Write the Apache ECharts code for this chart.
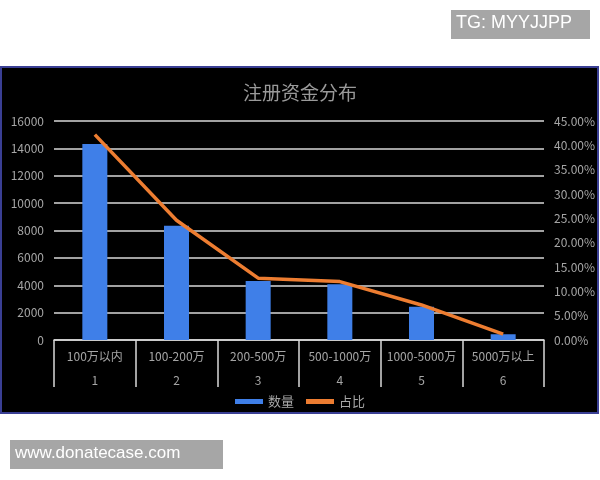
<!DOCTYPE html>
<html><head><meta charset="utf-8">
<script src="https://cdn.jsdelivr.net/npm/echarts@6/dist/echarts.min.js"></script>
<style>html,body{margin:0;padding:0;background:#fff}#c{width:600px;height:480px}</style>
</head><body><div id="c"></div>
<script>
const categories = ['100万以内','100-200万','200-500万','500-1000万','1000-5000万','5000万以上'];
const indexLabels = ['1','2','3','4','5','6'];
const counts = [14320, 8350, 4310, 4070, 2430, 420];
const shares = [0.422, 0.246, 0.127, 0.120, 0.072, 0.012];
const leftTicks = {min:0, max:16000, interval:2000};
const rightTicks = {min:0, max:0.45, interval:0.05};

const chart = echarts.init(document.getElementById('c'), null, {renderer:'canvas'});
const gray = '#a6a6a6';
const font = '"Noto Sans CJK SC", "Liberation Sans", sans-serif';
chart.setOption({
  backgroundColor:'#ffffff',
  animation:false,
  textStyle:{fontFamily:font},
  graphic:[
    {type:'rect', z:-10, shape:{x:1,y:67,width:597,height:346}, style:{fill:'#000000', stroke:'#3a3f94', lineWidth:2}},
    {type:'rect', z:100, shape:{x:451,y:10,width:139,height:29}, style:{fill:'#a6a6a6'}},
    {type:'text', z:101, left:456, top:14, style:{text:'TG: MYYJJPP', fill:'#ffffff', font:'18px "Liberation Sans", sans-serif'}},
    {type:'rect', z:100, shape:{x:10,y:440,width:213,height:29}, style:{fill:'#a6a6a6'}},
    {type:'text', z:101, left:15, top:445, style:{text:'www.donatecase.com', fill:'#ffffff', font:'17px "Liberation Sans", sans-serif'}}
  ],
  title:{text:'注册资金分布', left:'center', top:78, textStyle:{color:'#9a9a9a', fontSize:19, fontWeight:'normal', fontFamily:font}},
  legend:{top:393, left:'center', itemWidth:28, itemHeight:5, itemGap:12, padding:[2,5,2,5],
    textStyle:{color:gray, fontSize:13, fontFamily:font},
    data:[{name:'数量', icon:'rect'},{name:'占比', icon:'rect'}]},
  grid:{left:54, right:56, top:121, bottom:140},
  xAxis:{type:'category', data:categories.map((c,i)=>c+'\n'+indexLabels[i]),
    axisLine:{show:true, lineStyle:{color:'#d9d9d9', width:1.5}},
    axisTick:{show:true, length:47, lineStyle:{color:'#d9d9d9', width:1.5}},
    axisLabel:{color:gray, fontSize:12, lineHeight:24, margin:4, interval:0, fontFamily:font}},
  yAxis:[
    {type:'value', min:leftTicks.min, max:leftTicks.max, interval:leftTicks.interval,
      axisLine:{show:false}, axisTick:{show:false},
      axisLabel:{color:gray, fontSize:12, margin:10, fontFamily:font, formatter:v=>String(v)},
      splitLine:{lineStyle:{color:'#d9d9d9', width:1.5}}},
    {type:'value', min:rightTicks.min, max:rightTicks.max, interval:rightTicks.interval,
      axisLine:{show:false}, axisTick:{show:false}, splitLine:{show:false},
      axisLabel:{color:gray, fontSize:12, margin:10, fontFamily:font, formatter:v=>(v*100).toFixed(2)+'%'}}
  ],
  series:[
    {name:'数量', type:'bar', data:counts, barWidth:25, itemStyle:{color:'#3f7fe8'}},
    {name:'占比', type:'line', yAxisIndex:1, data:shares, symbol:'none', itemStyle:{color:'#ed7d31'}, lineStyle:{color:'#ed7d31', width:3.5}}
  ]
});
</script></body></html>
